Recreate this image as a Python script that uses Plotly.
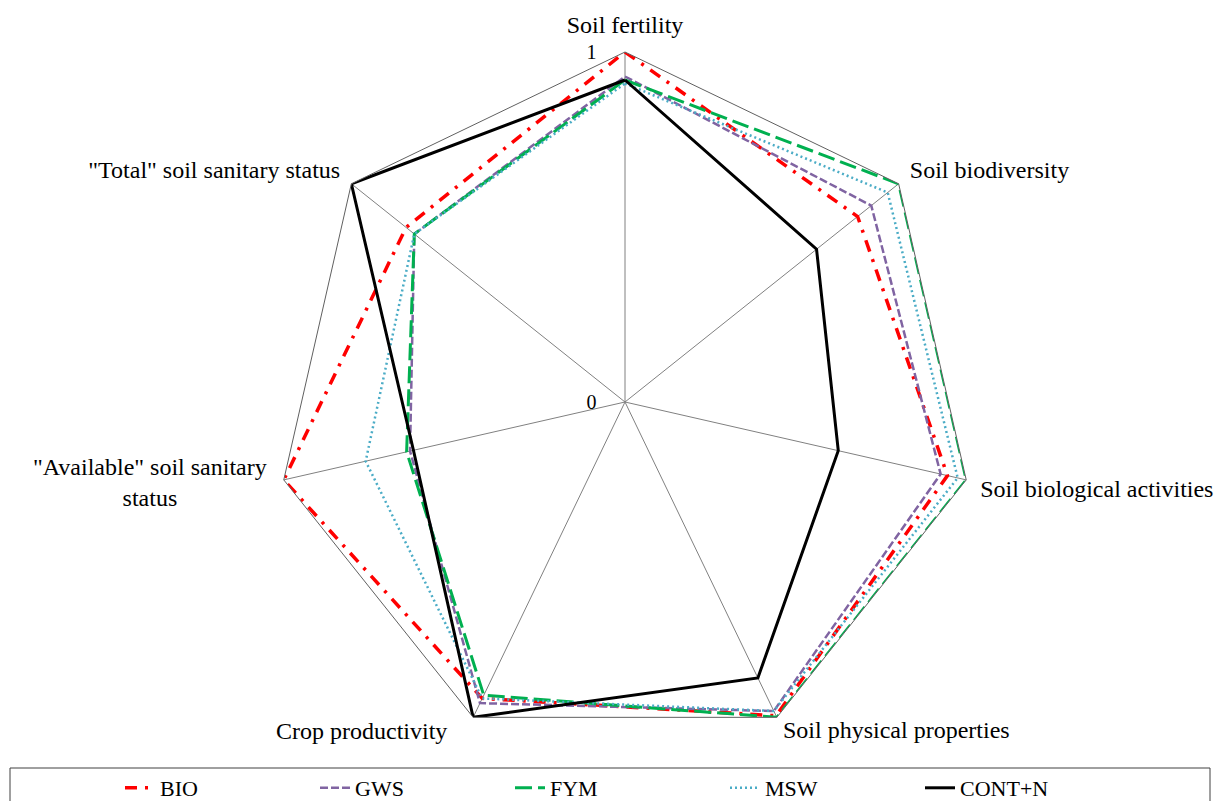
import plotly.graph_objects as go

# axes of the radar, clockwise from the top
categories = [
    "Soil fertility",
    "Soil biodiversity",
    "Soil biological activities",
    "Soil physical properties",
    "Crop productivity",
    '"Available" soil sanitary<br>status',
    '"Total" soil sanitary status',
]
radial_ticks = [0, 1]

# normalised scores (0-1)
bio = [1.00, 0.85, 0.945, 0.995, 0.94, 1.00, 0.80]
gws = [0.93, 0.90, 0.925, 0.98, 0.955, 0.63, 0.77]
fym = [0.92, 1.00, 1.00, 1.00, 0.93, 0.64, 0.77]
msw = [0.91, 0.96, 0.975, 0.98, 0.94, 0.76, 0.77]
cont_n = [0.92, 0.70, 0.625, 0.875, 1.00, 0.62, 1.00]

series = [
    ("BIO", bio, "#FF0000", "12px,8px,3px,8px", 3.5),
    ("GWS", gws, "#8064A2", "8px,3px", 2.5),
    ("FYM", fym, "#00B050", "17px,6px", 3),
    ("MSW", msw, "#4BACC6", "2px,3px", 2.5),
    ("CONT+N", cont_n, "#000000", "solid", 3),
]

FONT = "Liberation Serif"
W, H = 1226, 801
OFF = 8  # the page body margin shifts the figure by 8px


def px_x(px):
    return (px - OFF) / W


def px_y(py):
    return 1 - (py - OFF) / H


fig = go.Figure()
legend_ids = ["legend", "legend2", "legend3", "legend4", "legend5"]
for (name, vals, color, dash, width), lg in zip(series, legend_ids):
    fig.add_trace(go.Scatterpolar(
        r=vals + vals[:1],
        theta=categories + categories[:1],
        mode="lines",
        name=name,
        legend=lg,
        line=dict(color=color, dash=dash, width=width),
    ))

# the lower labels sit a bit higher in the original,
# so they are written as annotations instead of axis tick labels
manual = {3: (781, 730, "left"), 4: (449, 731, "right"), 5: (150, 482, "center")}
ticktext = ["" if i in manual else c for i, c in enumerate(categories)]
annotations = [
    dict(text=categories[i], x=px_x(px), y=px_y(py), xref="paper", yref="paper",
         xanchor=anchor, yanchor="middle", align="center", showarrow=False,
         font=dict(family=FONT, size=24, color="black"))
    for i, (px, py, anchor) in manual.items()
]

# centre and radius of the heptagon in page pixels
cx, cy, rad = 625, 402, 350
layout_legends = {}
text_x = [162, 357, 552, 767, 962]
for lg, tx in zip(legend_ids, text_x):
    layout_legends[lg] = dict(x=px_x(tx - 42), y=0, xanchor="left", yanchor="bottom",
                              orientation="h", bgcolor="rgba(0,0,0,0)",
                              font=dict(family=FONT, size=22, color="black"))

fig.update_layout(
    width=W, height=H,
    margin=dict(l=0, r=0, t=0, b=0),
    paper_bgcolor="white",
    plot_bgcolor="white",
    showlegend=True,
    font=dict(family=FONT, size=24, color="black"),
    polar=dict(
        domain=dict(x=[px_x(cx - rad), px_x(cx + rad)],
                    y=[px_y(cy + rad), px_y(cy - rad)]),
        gridshape="linear",
        bgcolor="white",
        radialaxis=dict(range=[0, 1], tickvals=radial_ticks,
                        ticktext=[f"{v}" + "&nbsp;" * 5 for v in radial_ticks],
                        showgrid=False, showline=False, ticks="",
                        angle=90, tickangle=90, side="counterclockwise",
                        tickfont=dict(family=FONT, size=20)),
        angularaxis=dict(direction="clockwise", rotation=90,
                         tickmode="array", tickvals=categories, ticktext=ticktext,
                         showline=True, linecolor="#606060", linewidth=1,
                         showgrid=True, gridcolor="#808080", gridwidth=1,
                         ticks="outside", ticklen=9, tickcolor="rgba(0,0,0,0)",
                         tickfont=dict(family=FONT, size=24)),
    ),
    annotations=annotations,
    shapes=[dict(type="rect", xref="paper", yref="paper",
                 x0=px_x(10), x1=px_x(1210), y0=-0.05, y1=px_y(768),
                 line=dict(color="#404040", width=1))],
    **layout_legends,
)

fig.write_html("out.html")
